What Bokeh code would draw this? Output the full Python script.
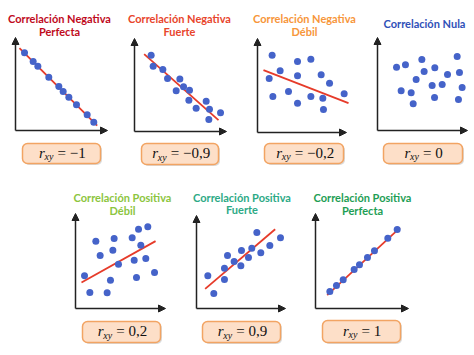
from bokeh.plotting import figure
from bokeh.layouts import row, column, Spacer
from bokeh.models import Range1d, Arrow, NormalHead
from bokeh.core.properties import value
from bokeh.embed import file_html
from bokeh.resources import INLINE

# ---------------- data ----------------
titles = [
    ["Correlación Negativa", "Perfecta"],
    ["Correlación Negativa", "Fuerte"],
    ["Correlación Negativa", "Débil"],
    ["Correlación Nula"],
    ["Correlación Positiva", "Débil"],
    ["Correlación Positiva", "Fuerte"],
    ["Correlación Positiva", "Perfecta"],
]
title_colors = ["#C00A1C", "#E8452C", "#F7963A", "#2F50B8", "#8CC540", "#2DAA86", "#1E9E55"]
r_values = ["−1", "−0,9", "−0,2", "0", "0,2", "0,9", "1"]

neg_perf_x = [0.98, 1.92, 2.43, 3.62, 4.71, 5.18, 5.80, 6.63, 7.79, 8.51]
neg_perf_y = [8.44, 7.50, 6.99, 5.80, 4.78, 4.24, 3.62, 2.79, 1.70, 0.91]

neg_fuer_x = [1.81, 2.03, 3.08, 3.59, 4.93, 4.53, 5.33, 5.98, 5.91, 6.70, 7.79, 8.15, 8.08, 9.35]
neg_fuer_y = [8.30, 7.10, 6.74, 5.76, 5.72, 4.42, 4.86, 4.49, 3.41, 2.54, 3.30, 2.43, 1.30, 2.03]

neg_deb_x = [1.59, 1.27, 2.46, 1.67, 3.37, 4.35, 4.35, 4.35, 5.80, 5.80, 6.92, 7.83, 7.10, 7.17, 9.42]
neg_deb_y = [8.41, 5.87, 6.70, 3.91, 4.46, 7.72, 6.16, 3.19, 7.97, 3.91, 6.27, 5.36, 3.73, 2.50, 4.20]

nula_x = [2.07, 3.04, 4.82, 5.07, 6.23, 4.20, 2.57, 3.66, 3.88, 5.94, 7.03, 7.61, 6.20, 8.66, 8.91, 9.20, 8.80]
nula_y = [6.88, 7.14, 7.72, 6.41, 6.81, 5.54, 4.31, 4.09, 2.90, 4.89, 5.00, 6.09, 3.59, 8.04, 6.30, 4.67, 3.37]

pos_deb_x = [2.21, 2.68, 0.98, 1.56, 3.44, 3.80, 4.20, 4.06, 4.67, 6.16, 6.85, 7.86, 7.10, 6.38, 7.64, 6.63, 8.59]
pos_deb_y = [7.32, 5.76, 3.55, 1.74, 1.70, 3.08, 7.61, 6.34, 4.82, 7.68, 8.62, 8.88, 6.88, 5.25, 5.43, 3.37, 3.91]

pos_fuer_x = [1.23, 1.88, 3.04, 3.04, 3.37, 4.09, 4.82, 4.89, 5.65, 6.01, 6.56, 6.99, 7.97, 9.13]
pos_fuer_y = [3.55, 1.63, 3.15, 4.38, 5.76, 5.11, 4.64, 6.30, 5.54, 6.56, 8.26, 6.05, 6.85, 7.68]

pos_perf_x = [1.56, 2.28, 3.01, 4.20, 4.78, 5.65, 6.41, 7.86, 8.88]
pos_perf_y = [1.85, 2.50, 3.12, 4.24, 4.75, 5.54, 6.27, 7.64, 8.59]

points_x = [neg_perf_x, neg_fuer_x, neg_deb_x, nula_x, pos_deb_x, pos_fuer_x, pos_perf_x]
points_y = [neg_perf_y, neg_fuer_y, neg_deb_y, nula_y, pos_deb_y, pos_fuer_y, pos_perf_y]

# trend lines (start, end); None for no line
line_x = [[0.43, 8.88], [1.05, 9.13], [0.65, 9.89], None, [0.65, 8.70], [0.94, 8.55], [1.27, 9.17]]
line_y = [[8.95, 0.54], [8.41, 1.23], [6.78, 3.19], None, [2.83, 7.32], [2.14, 8.62], [1.45, 8.77]]

# ---------------- layout (pixels within each panel) ----------------
S = 9.2  # px per data unit
# w, h, ox, oy, xend, ytop, title_cx, title_y1, box_l, box_r, box_t, box_b
geom = [
    (118, 180, 15, 130, 107, 37, 59, 18, 22, 100, 143, 163),
    (118, 180, 16, 131, 108, 38, 61, 18, 23, 100, 143, 164),
    (122, 180, 21, 132, 110, 38, 68, 18, 28, 107, 143, 163),
    (116, 180, 19, 130, 109, 37, 66, 23, 25, 104, 143, 163),
    (125, 175, 20, 128, 110, 33, 67, 17, 27, 105, 141, 162),
    (120, 175, 16, 128, 105, 35, 61.5, 16.5, 22, 100, 141, 162),
    (120, 175, 15, 128, 108, 33, 62, 17, 22, 100, 140, 162),
]

TITLE_FONT = "Lato"
POINT_COLOR = "#4563C9"
LINE_COLOR = "#E63B2A"
AXIS_COLOR = "#222222"

char_w = {"=": 8, " ": 3.5, "−": 8, ",": 3.5}


def make_panel(i):
    w, h, ox, oy, xend, ytop, tcx, ty1, bl, br, bt, bb = geom[i]
    fx = lambda px: (px - ox) / S
    fy = lambda py: (oy - py) / S
    p = figure(width=w, height=h, output_backend="svg", toolbar_location=None,
               x_range=Range1d(fx(0), fx(w)), y_range=Range1d(fy(h), fy(0)),
               x_axis_location=None, y_axis_location=None, min_border=0)
    p.grid.visible = False
    p.outline_line_color = None
    p.background_fill_color = "white"
    p.border_fill_color = "white"

    # titles
    for k, line in enumerate(titles[i]):
        p.text(x=[fx(tcx)], y=[fy(ty1 + 12.5 * k)], text=[line],
               text_font=value(TITLE_FONT), text_font_style="bold",
               text_font_size="11px", text_color=title_colors[i],
               text_align="center", text_baseline="middle")

    # axes (arrows)
    head = dict(size=7, fill_color=AXIS_COLOR, line_color=AXIS_COLOR)
    p.add_layout(Arrow(x_start=0, y_start=0, x_end=fx(xend), y_end=0,
                       end=NormalHead(**head), line_color=AXIS_COLOR, line_width=1.5))
    p.add_layout(Arrow(x_start=0, y_start=0, x_end=0, y_end=fy(ytop),
                       end=NormalHead(**head), line_color=AXIS_COLOR, line_width=1.5))

    # trend line
    if line_x[i] is not None:
        p.line(line_x[i], line_y[i], line_color=LINE_COLOR, line_width=1.8)
    # points
    p.scatter(points_x[i], points_y[i], size=7, fill_color=POINT_COLOR,
              line_color=POINT_COLOR, line_width=0)

    # r_xy box with shadow
    p.quad(left=[fx(bl + 1.5)], right=[fx(br + 1.5)], top=[fy(bt + 1.5)], bottom=[fy(bb + 1.5)],
           fill_color="#BBBBBB", fill_alpha=0.55, line_color=None, border_radius=5)
    p.quad(left=[fx(bl)], right=[fx(br)], top=[fy(bt)], bottom=[fy(bb)],
           fill_color="#FDDFC8", line_color="#F2A463", line_width=1.5, border_radius=5)

    val = "= " + r_values[i]
    wv = sum(char_w.get(c, 7) for c in val)
    total = 5.5 + 9.5 + 3.5 + wv
    start = -total / 2
    cx, cy = fx((bl + br) / 2), fy((bt + bb) / 2)
    common = dict(text_font=value("Liberation Serif"), text_color="#111111",
                  text_baseline="middle", text_align="left")
    p.text(x=[cx], y=[cy], text=["r"], x_offset=start, y_offset=-1,
           text_font_size="15px", text_font_style="italic", **common)
    p.text(x=[cx], y=[cy], text=["xy"], x_offset=start + 5.5, y_offset=3,
           text_font_size="10px", text_font_style="italic", **common)
    p.text(x=[cx], y=[cy], text=[val], x_offset=start + 5.5 + 9.5 + 3.5, y_offset=-1,
           text_font_size="15px", **common)
    return p


panels = [make_panel(i) for i in range(7)]
layout = column(
    row(*panels[:4], spacing=0),
    row(Spacer(width=55, height=175), *panels[4:], spacing=0),
    spacing=0,
)

open("out.html", "w").write(file_html(layout, INLINE))
